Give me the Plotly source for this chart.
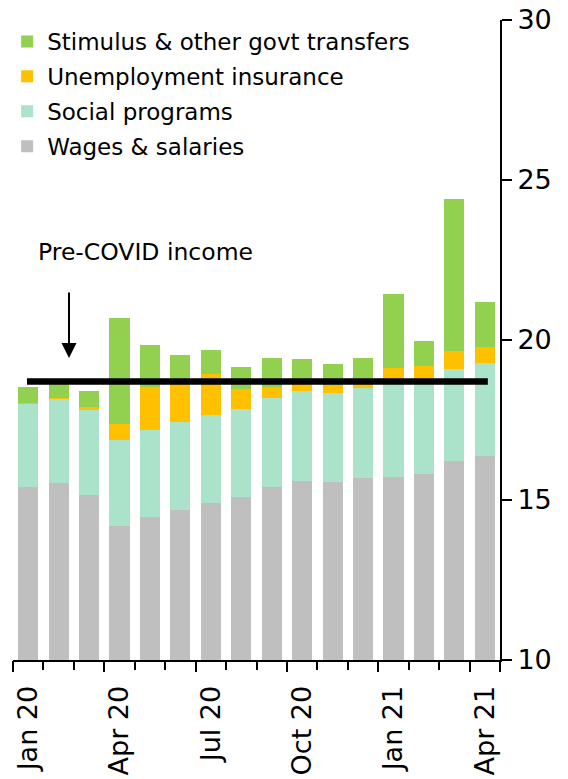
import plotly.graph_objects as go

months = ["Jan 20", "Feb 20", "Mar 20", "Apr 20", "May 20", "Jun 20", "Jul 20", "Aug 20",
          "Sep 20", "Oct 20", "Nov 20", "Dec 20", "Jan 21", "Feb 21", "Mar 21", "Apr 21"]
wages = [15.40, 15.52, 15.17, 14.20, 14.48, 14.70, 14.91, 15.10,
         15.42, 15.60, 15.56, 15.70, 15.73, 15.82, 16.21, 16.38]
social = [2.62, 2.64, 2.65, 2.68, 2.71, 2.73, 2.74, 2.74,
          2.76, 2.81, 2.78, 2.81, 2.89, 2.84, 2.88, 2.90]
unemployment = [0.02, 0.03, 0.09, 0.49, 1.34, 1.37, 1.29, 0.63,
                0.35, 0.21, 0.26, 0.30, 0.49, 0.54, 0.57, 0.50]
stimulus = [0.48, 0.49, 0.49, 3.32, 1.32, 0.74, 0.74, 0.68,
            0.92, 0.79, 0.64, 0.64, 2.33, 0.77, 4.74, 1.41]
pre_covid = 18.7

label_months = ["Jan 20", "Apr 20", "Jul 20", "Oct 20", "Jan 21", "Apr 21"]
y_ticks = [10, 15, 20, 25, 30]

idx = list(range(len(months)))
label_idx = [months.index(m) for m in label_months]
boundaries = [i - 0.5 for i in range(len(months) + 1)]
quarter_bounds = [i - 0.5 for i in label_idx] + [len(months) - 0.5]

series = [
    ("Wages & salaries", wages, "#BFBFBF"),
    ("Social programs", social, "#ABE3CA"),
    ("Unemployment insurance", unemployment, "#FFC000"),
    ("Stimulus & other govt transfers", stimulus, "#92D050"),
]

FONT = "DejaVu Sans"
fig = go.Figure()
for i, (name, vals, col) in enumerate(series):
    fig.add_trace(go.Bar(x=idx, y=vals, name=name, marker=dict(color=col, line=dict(width=0)),
                         width=0.66, legendgroup=f"g{i}", legendrank=10 - i))

fig.add_trace(go.Scatter(x=[idx[0] - 0.04, idx[-1] + 0.1], y=[pre_covid, pre_covid], mode="lines",
                         line=dict(color="black", width=6.5), showlegend=False, xaxis="x2"))

fig.add_annotation(x=0.27, y=22.75, xref="x", yref="y", text="Pre-COVID income", showarrow=False,
                   xanchor="left", yanchor="middle", font=dict(size=23.5, color="black", family=FONT))
fig.add_annotation(x=1.34, y=19.44, xref="x", yref="y", ax=1.34, ay=21.53, axref="x", ayref="y",
                   text="", showarrow=True, arrowhead=2, arrowsize=1.5, arrowwidth=2, arrowcolor="black",
                   standoff=0)

# page body adds an 8px margin; figure is sized so that the plot lands where the reference has it
fig.update_layout(
    width=560, height=771,
    margin=dict(l=5, r=68, t=12, b=119, autoexpand=False),
    barmode="stack",
    plot_bgcolor="white", paper_bgcolor="white",
    font=dict(family=FONT, color="black"),
    legend=dict(x=-0.012, y=1.0, xanchor="left", yanchor="top", traceorder="grouped",
                tracegroupgap=2, font=dict(size=23, family=FONT), bgcolor="rgba(0,0,0,0)"),
    xaxis=dict(range=[-0.5, len(months) - 0.5], tickmode="array", tickvals=label_idx,
               ticktext=label_months, tickangle=-90, ticks="", showline=True, linewidth=2,
               linecolor="black", showgrid=False, zeroline=False, tickfont=dict(size=27),
               ticklabelstandoff=13, automargin=False, ticklabeloverflow="allow",
               minor=dict(tickmode="array", tickvals=boundaries, ticks="outside", ticklen=8,
                          tickwidth=2, tickcolor="black", showgrid=False)),
    xaxis2=dict(overlaying="x", anchor="y", side="bottom", range=[-0.5, len(months) - 0.5],
                tickmode="array", tickvals=quarter_bounds, ticks="outside", ticklen=11, tickwidth=2,
                tickcolor="black", showticklabels=False, showline=False, showgrid=False, zeroline=False,
                automargin=False),
    yaxis=dict(side="right", range=[10, 30], tickmode="array", tickvals=y_ticks, ticks="outside",
               ticklen=10, tickwidth=2, tickcolor="black", showline=True, linewidth=2, linecolor="black",
               showgrid=False, zeroline=False, tickfont=dict(size=27), automargin=False,
               ticklabeloverflow="allow"),
)

fig.write_html("out.html")
